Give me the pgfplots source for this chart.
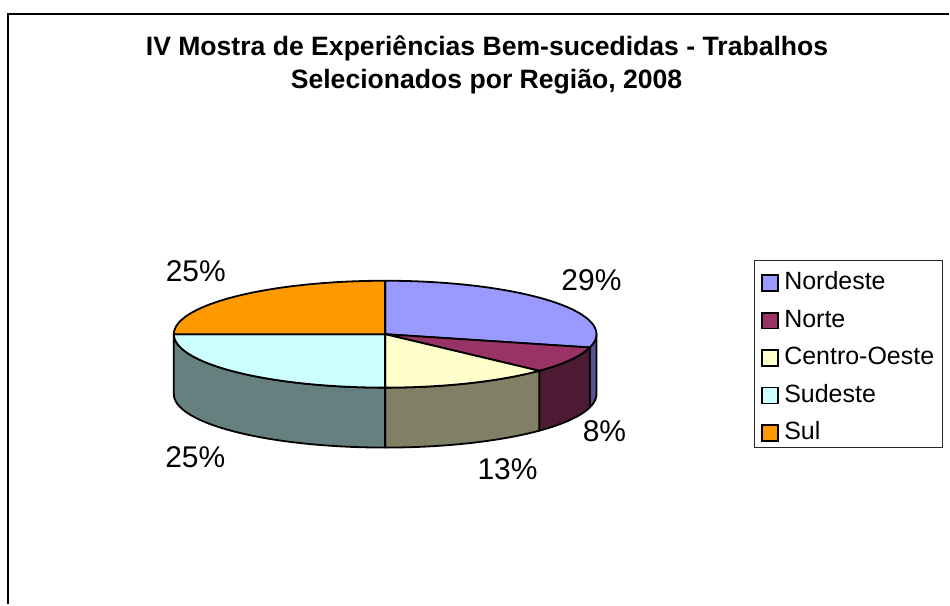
\documentclass[border=0pt]{standalone}
\usepackage{fontspec}
\setmainfont{Liberation Sans}
\usepackage{pgfplots}
\pgfplotsset{compat=1.18}
\usepgfplotslibrary{fillbetween}

\definecolor{cNE}{HTML}{9999FF}\definecolor{cNEs}{HTML}{555590}
\definecolor{cN}{HTML}{993366}\definecolor{cNs}{HTML}{4D1A33}
\definecolor{cCO}{HTML}{FFFFCC}\definecolor{cCOs}{HTML}{808066}
\definecolor{cSE}{HTML}{CCFFFF}\definecolor{cSEs}{HTML}{668080}
\definecolor{cS}{HTML}{FF9900}

% shares (percent) of the selected works
\def\vNE{29}\def\vN{8}\def\vCO{13}\def\vSE{25}\def\vS{25}
% pie geometry (axis units = pixels)
\def\cx{385.5}\def\cy{270.5}\def\rx{211.5}\def\ry{53.5}\def\dd{60}
\def\lw{1.8pt}

\begin{document}
\begin{tikzpicture}[x=1pt,y=1pt]
\pgfmathsetmacro\aA{90}
\pgfmathsetmacro\aB{\aA-3.6*\vNE}
\pgfmathsetmacro\aC{\aB-3.6*\vN}
\pgfmathsetmacro\aD{\aC-3.6*\vCO}
\pgfmathsetmacro\aE{\aD-3.6*\vSE}
\pgfmathsetmacro\aF{\aE-3.6*\vS}
\begin{axis}[at={(0,0)}, anchor=south west, scale only axis,
  width=950pt, height=605pt, xmin=0, xmax=950, ymin=0, ymax=605,
  hide axis, clip=false,
  legend image code/.code={\draw[#1, draw=black, line width=1.6pt] (0pt,-8pt) rectangle (16pt,8pt); \path (21pt,0pt);},
  legend cell align=left,
  legend style={at={(axis cs:762,333)}, anchor=north west, draw=none, fill=none,
    inner sep=0pt, outer sep=0pt, row sep=14.5pt,
    font=\fontsize{25}{29}\selectfont,
    nodes={inner xsep=1pt, inner ysep=0pt, text height=18pt, text depth=5pt}},
]
% frame
\draw[line width=1.8pt] (axis cs:8,0) -- (axis cs:8,591) -- (axis cs:950,591);

% front sides
\addplot[draw=none, name path=t1, domain=\aB:0, samples=30, forget plot] ({\cx+\rx*cos(x)},{\cy+\ry*sin(x)});
\addplot[draw=none, name path=b1, domain=\aB:0, samples=30, forget plot] ({\cx+\rx*cos(x)},{\cy-\dd+\ry*sin(x)});
\addplot[fill=cNEs, draw=black, line width=\lw, line join=round, forget plot] fill between[of=t1 and b1];

\addplot[draw=none, name path=t2, domain=\aC:\aB, samples=30, forget plot] ({\cx+\rx*cos(x)},{\cy+\ry*sin(x)});
\addplot[draw=none, name path=b2, domain=\aC:\aB, samples=30, forget plot] ({\cx+\rx*cos(x)},{\cy-\dd+\ry*sin(x)});
\addplot[fill=cNs, draw=black, line width=\lw, line join=round, forget plot] fill between[of=t2 and b2];

\addplot[draw=none, name path=t3, domain=\aD:\aC, samples=40, forget plot] ({\cx+\rx*cos(x)},{\cy+\ry*sin(x)});
\addplot[draw=none, name path=b3, domain=\aD:\aC, samples=40, forget plot] ({\cx+\rx*cos(x)},{\cy-\dd+\ry*sin(x)});
\addplot[fill=cCOs, draw=black, line width=\lw, line join=round, forget plot] fill between[of=t3 and b3];

\addplot[draw=none, name path=t4, domain=-180:\aD, samples=60, forget plot] ({\cx+\rx*cos(x)},{\cy+\ry*sin(x)});
\addplot[draw=none, name path=b4, domain=-180:\aD, samples=60, forget plot] ({\cx+\rx*cos(x)},{\cy-\dd+\ry*sin(x)});
\addplot[fill=cSEs, draw=black, line width=\lw, line join=round, forget plot] fill between[of=t4 and b4];

% top faces
\addplot[fill=cNE, draw=black, line width=\lw, line join=round, domain=\aB:\aA, samples=60, forget plot]
  ({\cx+\rx*cos(x)},{\cy+\ry*sin(x)}) -- (axis cs:\cx,\cy) -- cycle;
\addplot[fill=cN, draw=black, line width=\lw, line join=round, domain=\aC:\aB, samples=30, forget plot]
  ({\cx+\rx*cos(x)},{\cy+\ry*sin(x)}) -- (axis cs:\cx,\cy) -- cycle;
\addplot[fill=cCO, draw=black, line width=\lw, line join=round, domain=\aD:\aC, samples=40, forget plot]
  ({\cx+\rx*cos(x)},{\cy+\ry*sin(x)}) -- (axis cs:\cx,\cy) -- cycle;
\addplot[fill=cSE, draw=black, line width=\lw, line join=round, domain=\aE:\aD, samples=60, forget plot]
  ({\cx+\rx*cos(x)},{\cy+\ry*sin(x)}) -- (axis cs:\cx,\cy) -- cycle;
\addplot[fill=cS, draw=black, line width=\lw, line join=round, domain=\aF:\aE, samples=60, forget plot]
  ({\cx+\rx*cos(x)},{\cy+\ry*sin(x)}) -- (axis cs:\cx,\cy) -- cycle;

% data labels
\node[font=\fontsize{30}{36}\selectfont, inner sep=0pt] at (axis cs:592,325) {29\%};
\node[font=\fontsize{30}{36}\selectfont, inner sep=0pt] at (axis cs:605,173) {8\%};
\node[font=\fontsize{30}{36}\selectfont, inner sep=0pt] at (axis cs:508,135) {13\%};
\node[font=\fontsize{30}{36}\selectfont, inner sep=0pt] at (axis cs:195.5,147.5) {25\%};
\node[font=\fontsize{30}{36}\selectfont, inner sep=0pt] at (axis cs:196,334) {25\%};

% title
\node[font=\bfseries\fontsize{26.6}{32}\selectfont, anchor=base] at (axis cs:487.5,549) {IV Mostra de Experiências Bem-sucedidas - Trabalhos};
\node[font=\bfseries\fontsize{26.6}{32}\selectfont, anchor=base] at (axis cs:487,516) {Selecionados por Região, 2008};

% legend
\draw[line width=1pt, black!85] (axis cs:755,344) rectangle (axis cs:943,157);
\addlegendimage{fill=cNE}\addlegendentry{Nordeste}
\addlegendimage{fill=cN}\addlegendentry{Norte}
\addlegendimage{fill=cCO}\addlegendentry{Centro-Oeste}
\addlegendimage{fill=cSE}\addlegendentry{Sudeste}
\addlegendimage{fill=cS}\addlegendentry{Sul}
\end{axis}
\path (0,0) rectangle (950,605);
\end{tikzpicture}
\end{document}
